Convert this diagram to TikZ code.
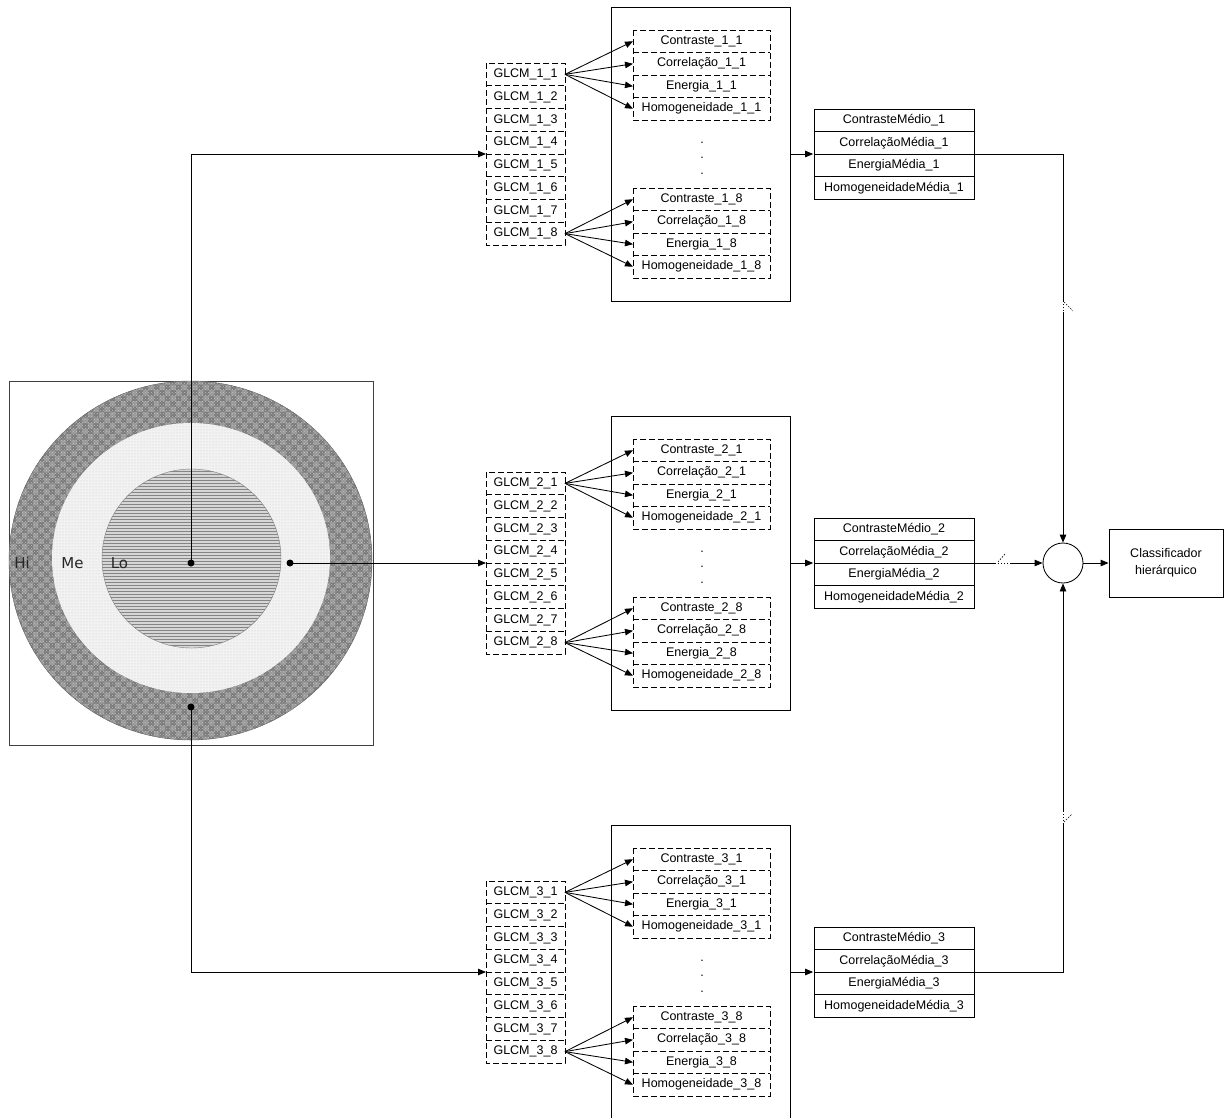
\documentclass[tikz,border=0pt]{standalone}
\usepackage{fontspec}
\setmainfont{Liberation Sans}
\newfontfamily\verdfont{DejaVu Sans}
\usetikzlibrary{arrows.meta,patterns,fit,calc}
\begin{document}
\begin{tikzpicture}[x=1pt,y=-1pt,line width=0.85pt,
  arr/.style={-{Triangle[length=8pt,width=6.5pt]}},
  txt/.style={font=\fontsize{12.5}{15}\selectfont},
  dsh/.style={dash pattern=on 6pt off 3pt},
  glcm/.style={txt,minimum width=79pt,minimum height=22.75pt,inner sep=0pt,outer sep=0pt},
  feat/.style={txt,minimum width=137pt,minimum height=22.5pt,inner sep=0pt,outer sep=0pt},
  meanrow/.style={txt,draw,minimum width=160pt,minimum height=22.5pt,inner sep=0pt},
  block/.style={draw,minimum width=179pt,minimum height=294pt,inner sep=0pt},
  ringlabel/.style={font=\verdfont\fontsize{15}{17}\selectfont,text=black!85,inner sep=0pt},
  brk/.style={line width=0.6pt,dash pattern=on 1.5pt off 1.5pt},
  gap/.style={white,line width=1.4pt,dash pattern=on 1.5pt off 1.5pt}]
\useasboundingbox (0,0) rectangle (1232,1117);
% ---- image of rings ----
\draw[black!75,line width=0.7pt] (9,381) rectangle (373,745);
\fill[black!40] (190.5,560.5) ellipse [x radius=181.5pt,y radius=179.5pt];
\fill[pattern=checkerboard,pattern color=black!52] (190.5,560.5) ellipse [x radius=181.5pt,y radius=179.5pt];
\fill[pattern=crosshatch dots,pattern color=black!25] (190.5,560.5) ellipse [x radius=181.5pt,y radius=179.5pt];
\draw[black!60,line width=0.4pt] (190.5,560.5) ellipse [x radius=181.5pt,y radius=179.5pt];
\fill[black!5] (191,558) ellipse [x radius=139pt,y radius=135pt];
\fill[pattern=dots,pattern color=black!22] (191,558) ellipse [x radius=139pt,y radius=135pt];
\fill[black!16] (191.5,558.5) circle [radius=89.5pt];
\fill[pattern=horizontal lines,pattern color=black!48] (191.5,558.5) circle [radius=89.5pt];
\draw[black!50,line width=0.4pt] (191.5,558.5) circle [radius=89.5pt];
\node[ringlabel] (hi) at (22,563) {Hi};
\node[ringlabel] (me) at (72.5,563) {Me};
\node[ringlabel] (lo) at (119.5,563) {Lo};
\coordinate (c0) at (191,563);
\coordinate (c1) at (290,563);
\coordinate (c2) at (191,707);
% ---- three processing chains ----
\foreach \s/\c in {1/154,2/563,3/972}{
  \node[block] (b\s) at (700.5,\c) {};
  \foreach \i in {1,...,8}{
    \node[glcm] (g\s-\i) at (525.5,{\c-91+22.75*(\i-0.5)}) {GLCM\_\s\_\i};
  }
  \node[fit=(g\s-1)(g\s-8),inner sep=0pt,outer sep=0pt] (gs\s) {};
  \draw[dsh] (gs\s.north west) rectangle (gs\s.south east);
  \foreach \i in {1,...,7}{
    \draw[dsh] (g\s-\i.south west) -- (g\s-\i.south east);
  }
  \foreach \k/\n in {1/Contraste,2/Correlação,3/Energia,4/Homogeneidade}{
    \node[feat] (f\s-1-\k) at (701.5,{\c-124+22.5*(\k-0.5)}) {\n\_\s\_1};
    \node[feat] (f\s-8-\k) at (701.5,{\c+34+22.5*(\k-0.5)}) {\n\_\s\_8};
  }
  \node[fit=(f\s-1-1)(f\s-1-4),inner sep=0pt,outer sep=0pt] (fa\s) {};
  \node[fit=(f\s-8-1)(f\s-8-4),inner sep=0pt,outer sep=0pt] (fb\s) {};
  \draw[dsh] (fa\s.north west) rectangle (fa\s.south east);
  \draw[dsh] (fb\s.north west) rectangle (fb\s.south east);
  \foreach \k in {1,2,3}{
    \draw[dsh] (f\s-1-\k.south west) -- (f\s-1-\k.south east);
    \draw[dsh] (f\s-8-\k.south west) -- (f\s-8-\k.south east);
  }
  \foreach \k in {1,...,4}{
    \draw[arr] (g\s-1.east) -- (f\s-1-\k.west);
    \draw[arr] (g\s-8.east) -- (f\s-8-\k.west);
  }
  \node[txt,anchor=base,inner sep=0pt] (d\s-1) at (702,{\c-11}) {.};
  \node[txt,anchor=base,inner sep=0pt] (d\s-2) at (702,{\c+4}) {.};
  \node[txt,anchor=base,inner sep=0pt] (d\s-3) at (702,{\c+20}) {.};
  \foreach \k/\n in {1/ContrasteMédio,2/CorrelaçãoMédia,3/EnergiaMédia,4/HomogeneidadeMédia}{
    \node[meanrow] (m\s-\k) at (894,{\c-45+22.5*(\k-0.5)}) {\n\_\s};
  }
  \node[fit=(m\s-1)(m\s-4),inner sep=0pt] (ms\s) {};
  \draw[arr] (b\s.east) -- (ms\s.west);
}
% ---- inputs ----
\draw[arr] (c0) |- (gs1.west);
\draw[arr] (c1) -- (gs2.west);
\draw[arr] (c2) |- (gs3.west);
\fill (c0) circle [radius=3.5pt];
\fill (c1) circle [radius=3.5pt];
\fill (c2) circle [radius=3.5pt];
% ---- combination ----
\node[draw,circle,minimum size=40pt,inner sep=0pt] (sum) at (1063,563) {};
\node[draw,txt,minimum width=114pt,minimum height=68pt,align=center,
      font=\fontsize{12.5}{17}\selectfont] (cls) at (1166,563) {Classificador\\hierárquico};
\draw[arr] (ms1.east) -| (sum.north);
\draw[arr] (ms2.east) -- (sum.west);
\draw[arr] (ms3.east) -| (sum.south);
\draw[arr] (sum.east) -- (cls.west);
% ---- line-break marks ----
\draw[gap] (1063,302) -- (1063,312);
\draw[brk] (1064,302) -- (1073,311);
\draw[gap] (996,563) -- (1011,563);
\draw[brk] (998,562) -- (1005,554);
\draw[gap] (1063,812) -- (1063,823);
\draw[brk] (1064,822) -- (1072,814);
\end{tikzpicture}
\end{document}
